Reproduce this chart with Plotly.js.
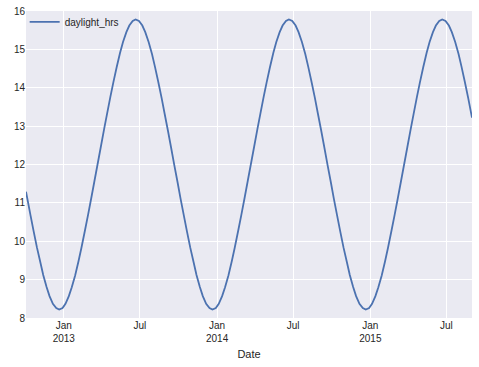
<!DOCTYPE html>
<html>
<head>
<meta charset="utf-8">
<script src="https://cdn.plot.ly/plotly-3.0.1.min.js"></script>
<style>html,body{margin:0;padding:0;background:#fff;}#chart{width:479px;height:367px;}</style>
</head>
<body>
<div id="chart"></div>
<script>
// Dates and daylight hours (roughly weekly samples)
const dates2012 = ["2012-10-03","2012-10-14","2012-10-21","2012-10-29","2012-11-06","2012-11-13","2012-11-21","2012-11-28","2012-12-06","2012-12-14","2012-12-21","2012-12-29"];
const hrs2012   = [11.29, 10.66, 10.27, 9.84, 9.46, 9.12, 8.81, 8.57, 8.37, 8.26, 8.22, 8.26];

const dates2013 = ["2013-01-05","2013-01-13","2013-01-20","2013-01-28","2013-02-05","2013-02-12","2013-02-20","2013-02-28","2013-03-07","2013-03-15","2013-03-22","2013-03-30","2013-04-07","2013-04-14","2013-04-22","2013-04-29","2013-05-07","2013-05-15","2013-05-22","2013-05-30","2013-06-06","2013-06-14","2013-06-21","2013-06-29","2013-07-07","2013-07-14","2013-07-22","2013-07-30","2013-08-06","2013-08-14","2013-08-22","2013-08-29","2013-09-06","2013-09-13","2013-09-21","2013-09-29","2013-10-06","2013-10-14","2013-10-21","2013-10-29","2013-11-06","2013-11-13","2013-11-21","2013-11-28","2013-12-06","2013-12-14","2013-12-21","2013-12-29"];
const hrs2013   = [8.37, 8.57, 8.80, 9.11, 9.48, 9.83, 10.26, 10.70, 11.10, 11.57, 11.98, 12.45, 12.92, 13.32, 13.77, 14.14, 14.54, 14.91, 15.19, 15.45, 15.62, 15.74, 15.78, 15.74, 15.62, 15.45, 15.19, 14.88, 14.55, 14.15, 13.73, 13.33, 12.88, 12.47, 11.99, 11.53, 11.11, 10.66, 10.27, 9.84, 9.46, 9.12, 8.81, 8.57, 8.37, 8.26, 8.22, 8.26];

const dates2014 = ["2014-01-05","2014-01-13","2014-01-20","2014-01-28","2014-02-05","2014-02-12","2014-02-20","2014-02-28","2014-03-07","2014-03-15","2014-03-22","2014-03-30","2014-04-07","2014-04-14","2014-04-22","2014-04-29","2014-05-07","2014-05-15","2014-05-22","2014-05-30","2014-06-06","2014-06-14","2014-06-21","2014-06-29","2014-07-07","2014-07-14","2014-07-22","2014-07-30","2014-08-06","2014-08-14","2014-08-22","2014-08-29","2014-09-06","2014-09-13","2014-09-21","2014-09-29","2014-10-06","2014-10-14","2014-10-21","2014-10-29","2014-11-06","2014-11-13","2014-11-21","2014-11-28","2014-12-06","2014-12-14","2014-12-21","2014-12-29"];
const hrs2014   = [8.37, 8.57, 8.80, 9.11, 9.48, 9.83, 10.26, 10.70, 11.10, 11.57, 11.98, 12.45, 12.92, 13.32, 13.77, 14.14, 14.54, 14.91, 15.19, 15.45, 15.62, 15.74, 15.78, 15.74, 15.62, 15.45, 15.19, 14.88, 14.55, 14.15, 13.73, 13.33, 12.88, 12.47, 11.99, 11.53, 11.11, 10.66, 10.27, 9.84, 9.46, 9.12, 8.81, 8.57, 8.37, 8.26, 8.22, 8.26];

const dates2015 = ["2015-01-05","2015-01-13","2015-01-20","2015-01-28","2015-02-05","2015-02-12","2015-02-20","2015-02-28","2015-03-07","2015-03-15","2015-03-22","2015-03-30","2015-04-07","2015-04-14","2015-04-22","2015-04-29","2015-05-07","2015-05-15","2015-05-22","2015-05-30","2015-06-06","2015-06-14","2015-06-21","2015-06-29","2015-07-07","2015-07-14","2015-07-22","2015-07-30","2015-08-06","2015-08-14","2015-08-22","2015-08-31"];
const hrs2015   = [8.37, 8.57, 8.80, 9.11, 9.48, 9.83, 10.26, 10.70, 11.10, 11.57, 11.98, 12.45, 12.92, 13.32, 13.77, 14.14, 14.54, 14.91, 15.19, 15.45, 15.62, 15.74, 15.78, 15.74, 15.62, 15.45, 15.19, 14.88, 14.55, 14.15, 13.73, 13.22];

const xTickVals = ["2013-01-01","2013-07-01","2014-01-01","2014-07-01","2015-01-01","2015-07-01"];
const xTickText = ["Jan<br>2013","Jul","Jan<br>2014","Jul","Jan<br>2015","Jul"];
const yTickVals = [8, 9, 10, 11, 12, 13, 14, 15, 16];

const dates = [].concat(dates2012, dates2013, dates2014, dates2015);
const daylightHrs = [].concat(hrs2012, hrs2013, hrs2014, hrs2015);

const trace = {
  x: dates,
  y: daylightHrs,
  type: 'scatter',
  mode: 'lines',
  name: 'daylight_hrs',
  line: {color: '#4C72B0', width: 1.8, shape: 'linear', simplify: false},
  showlegend: true
};

const fam = 'Liberation Sans, Arial, sans-serif';
const txt = '#262626';

const layout = {
  width: 479,
  height: 367,
  margin: {l: 26, r: 7, t: 11, b: 49},
  paper_bgcolor: '#ffffff',
  plot_bgcolor: '#EAEAF2',
  font: {family: fam, size: 10, color: txt},
  showlegend: true,
  legend: {x: -0.003, y: 1.012, xanchor: 'left', yanchor: 'top', bgcolor: 'rgba(0,0,0,0)', borderwidth: 0, font: {family: fam, size: 10, color: txt}},
  xaxis: {
    type: 'date',
    range: ["2012-10-03", "2015-08-31"],
    tickmode: 'array',
    tickvals: xTickVals,
    ticktext: xTickText,
    showgrid: true,
    gridcolor: '#ffffff',
    gridwidth: 1,
    zeroline: false,
    showline: false,
    ticks: '',
    tickfont: {family: fam, size: 10, color: txt},
    title: {text: 'Date', font: {family: fam, size: 11, color: txt}, standoff: 7}
  },
  yaxis: {
    range: [8, 16],
    tickmode: 'array',
    tickvals: yTickVals,
    showgrid: true,
    gridcolor: '#ffffff',
    gridwidth: 1,
    zeroline: false,
    showline: false,
    ticks: '',
    tickfont: {family: fam, size: 10, color: txt}
  }
};

Plotly.newPlot('chart', [trace], layout, {displayModeBar: false, staticPlot: true});
</script>
</body>
</html>
